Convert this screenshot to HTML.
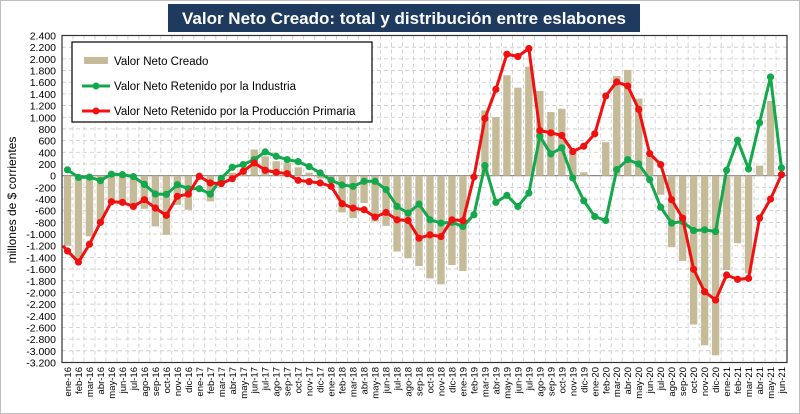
<!DOCTYPE html>
<html><head><meta charset="utf-8"><style>
body{margin:0;background:#fff;}
svg{display:block;font-family:"Liberation Sans",sans-serif;}
</style></head><body>
<svg id="chart" width="800" height="414" viewBox="0 0 800 414">
<rect x="0.5" y="0.5" width="799" height="413" fill="#ffffff" stroke="#bfbfbf"/>
<rect x="168" y="4" width="472" height="28" fill="#1f3a5f"/>
<text x="404" y="24" text-anchor="middle" fill="#fff" font-size="17" font-weight="bold">Valor Neto Creado: total y distribución entre eslabones</text>
<text transform="translate(16,200) rotate(-90)" text-anchor="middle" font-size="12" fill="#000">millones de $ corrientes</text>
<g id="grid"></g><g id="bars"></g><g id="lines"></g><g id="yticks"></g><g id="xticks"></g>
<rect x="62" y="35.5" width="725" height="327" fill="none" stroke="#333" stroke-width="1.2"/>
<g>
<rect x="72" y="42" width="300" height="80" fill="#fff" stroke="#000" stroke-width="1.2"/>
<rect x="84" y="57" width="24" height="7" fill="#c6bb98"/>
<text x="114" y="65" font-size="11.5">Valor Neto Creado</text>
<line x1="82" y1="86" x2="110" y2="86" stroke="#14a84c" stroke-width="3"/>
<circle cx="96" cy="86" r="3.5" fill="#14a84c"/>
<text x="114" y="90" font-size="11.5">Valor Neto Retenido por la Industria</text>
<line x1="82" y1="111" x2="110" y2="111" stroke="#f01010" stroke-width="3"/>
<circle cx="96" cy="111" r="3.5" fill="#f01010"/>
<text x="114" y="115" font-size="11.5">Valor Neto Retenido por la Producción Primaria</text>
</g>
</svg>
<script>
const months=["ene","feb","mar","abr","may","jun","jul","ago","sep","oct","nov","dic"];
const categories=[];
for(let y=16;y<=21;y++)for(let m=0;m<12;m++){if(y===21&&m>5)break;categories.push(months[m]+"-"+y);}
const vnc=[-1200,-1445,-1040,-810,-470,-460,-520,-567,-870,-1014,-500,-585,-30,-440,-100,50,100,447,330,246,218,143,50,-50,-100,-630,-728,-470,-785,-860,-1300,-1415,-1547,-1760,-1862,-1530,-1633,-50,1117,1003,1719,1507,1868,1450,1089,1146,390,57,0,573,1708,1811,1318,332,-327,-1226,-1461,-2550,-2905,-3077,-1616,-1157,-1673,172,1278,0];
const industria=[100,-30,-25,-85,25,17,-17,-150,-315,-320,-155,-223,-223,-315,-46,143,190,275,407,332,275,240,155,46,-80,-160,-183,-97,-97,-240,-527,-642,-487,-756,-813,-800,-870,-670,172,-458,-338,-527,-298,676,372,476,-40,-430,-700,-768,103,275,200,-69,-539,-813,-785,-940,-928,-957,92,607,115,905,1690,132];
const primaria=[-1290,-1480,-1175,-800,-447,-458,-527,-412,-556,-680,-355,-315,-11,-126,-137,-52,75,218,92,57,34,-80,-103,-126,-183,-481,-556,-584,-710,-630,-756,-768,-1071,-1014,-1043,-756,-773,-23,980,1478,2080,2040,2177,773,733,688,413,504,716,1364,1604,1536,1135,378,189,-413,-728,-1604,-1988,-2131,-1702,-1776,-1759,-728,-401,17];
const primariaPrev=-1200;
const yTicks=[];for(let v=2400;v>=-3200;v-=200)yTicks.push(v);
const NS="http://www.w3.org/2000/svg";
const L=62,R=787,T=35.5,B=362.5,vmax=2400,vmin=-3200;
const yS=v=>T+(vmax-v)/(vmax-vmin)*(B-T);
const step=(R-L)/categories.length;
const xS=i=>L+step*(i+0.5);
function mk(tag,attrs,parent){const e=document.createElementNS(NS,tag);for(const k in attrs)e.setAttribute(k,attrs[k]);document.getElementById(parent).appendChild(e);return e;}
yTicks.forEach(v=>{
 const g=mk("line",{x1:L,x2:R,y1:yS(v),y2:yS(v),stroke:v===0?"#888":"#c8c8c8","stroke-dasharray":v===0?"":"4,3","stroke-width":v===0?1.3:0.8},"grid");
 
 
 const t=mk("text",{x:L-6,y:yS(v)+4,"text-anchor":"end","font-size":"10.5"},"yticks");
 t.textContent=v.toLocaleString("de-DE");
 
 
});
categories.forEach((c,i)=>{
 const x=L+step*i;
 const g=mk("line",{x1:x,x2:x,y1:T,y2:B,stroke:"#c8c8c8","stroke-dasharray":"4,3","stroke-width":0.8},"grid");
 
 
 const t=mk("text",{transform:`translate(${xS(i)+3.5},367) rotate(-90)`,"text-anchor":"end","font-size":"9.5"},"xticks");
 t.textContent=c;
 
 
});
vnc.forEach((v,i)=>{
 const y0=yS(0),y1=yS(v);
 const b=mk("rect",{x:xS(i)-3.7,y:Math.min(y0,y1),width:7.4,height:Math.abs(y1-y0),fill:"#c6bb98"},"bars");
 
 
});
const lead=mk("line",{x1:L+1,y1:yS(primariaPrev),x2:xS(0),y2:yS(primaria[0]),stroke:"#f01010","stroke-width":3},"lines");


function series(arr,color,name){
 const p=mk("polyline",{points:arr.map((v,i)=>xS(i)+","+yS(v)).join(" "),fill:"none",stroke:color,"stroke-width":3,"stroke-linejoin":"round"},"lines");
 
 
 arr.forEach((v,i)=>{
  const c=mk("circle",{cx:xS(i),cy:yS(v),r:3.6,fill:color},"lines");
  
  
 });
}
series(industria,"#14a84c","industria");
series(primaria,"#f01010","primaria");
</script>
</body></html>
